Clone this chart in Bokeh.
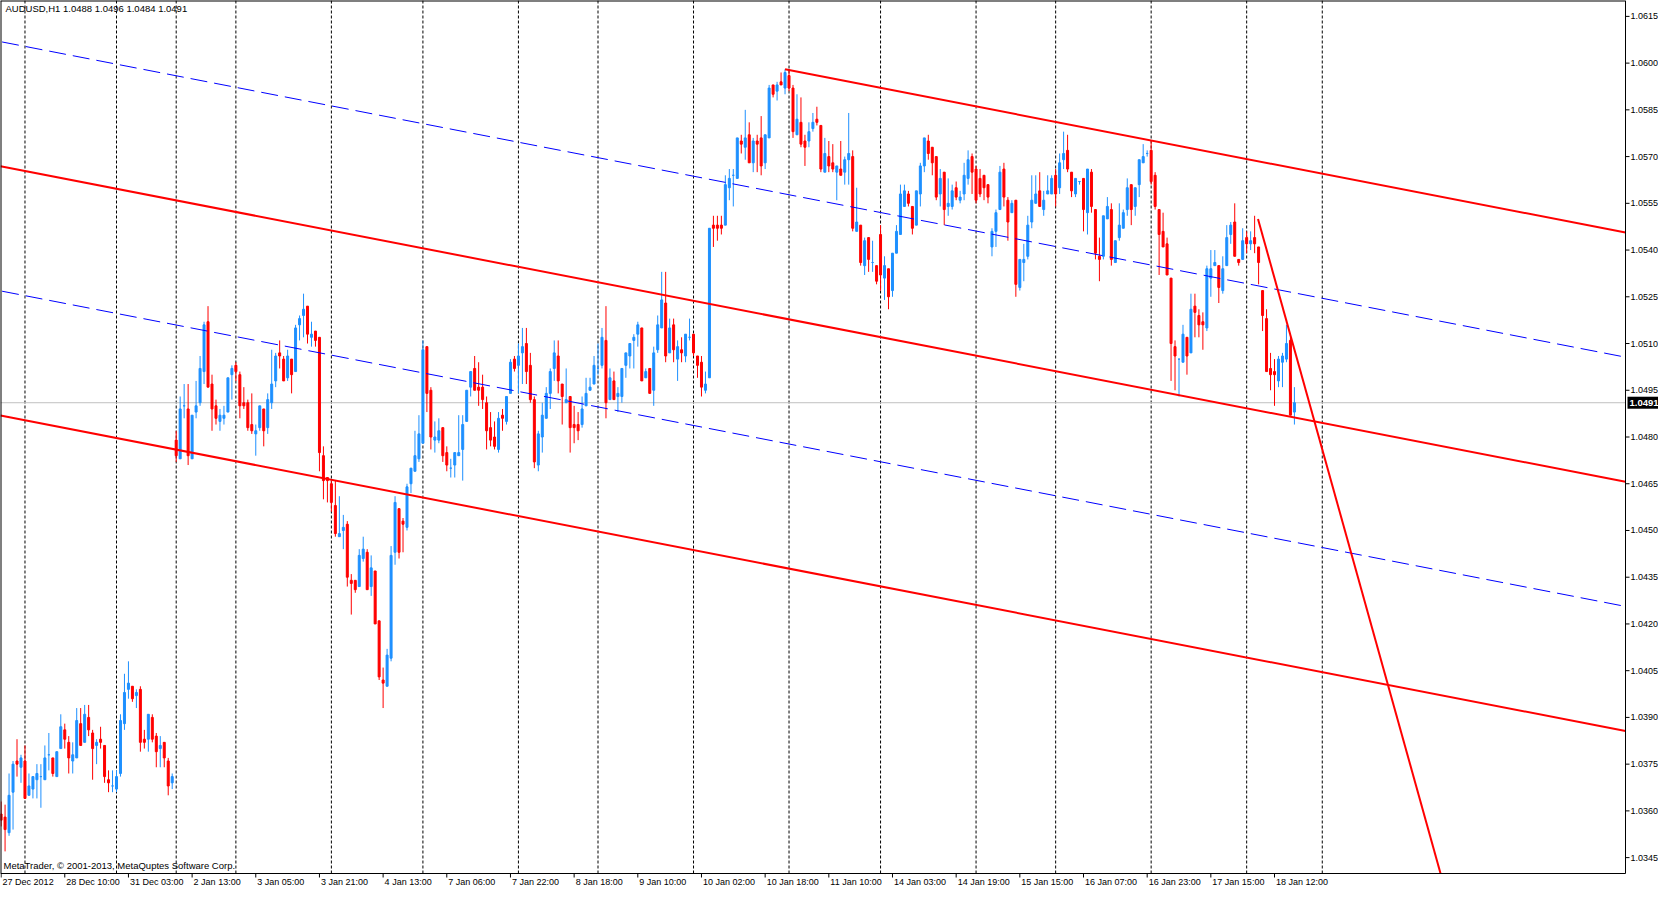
from bokeh.plotting import figure
from bokeh.models import Range1d, Label, ColumnDataSource
from bokeh.core.properties import value
from bokeh.embed import file_html
from bokeh.resources import INLINE

# ---------------- data (AUDUSD H1) ----------------
opens = [
    1.0359, 1.0358, 1.0353, 1.0366, 1.0376, 1.0374, 1.0376, 1.0365, 1.0367, 1.0370,
    1.0371, 1.0370, 1.0378, 1.0377, 1.0371, 1.0380, 1.0386, 1.0382, 1.0376, 1.0377,
    1.0388, 1.0382, 1.0390, 1.0385, 1.0381, 1.0383, 1.0381, 1.0370, 1.0368, 1.0367,
    1.0372, 1.0388, 1.0399, 1.0400, 1.0397, 1.0399, 1.0383, 1.0383, 1.0390, 1.0384,
    1.0380, 1.0382, 1.0376, 1.0369, 1.0479, 1.0473, 1.0490, 1.0489, 1.0473, 1.0488,
    1.0491, 1.0501, 1.0517, 1.0497, 1.0490, 1.0485, 1.0486, 1.0488, 1.0500, 1.0503,
    1.0500, 1.0491, 1.0491, 1.0484, 1.0481, 1.0483, 1.0489, 1.0483, 1.0491, 1.0498,
    1.0507, 1.0505, 1.0499, 1.0505, 1.0501, 1.0516, 1.0519, 1.0522, 1.0512, 1.0514,
    1.0512, 1.0474, 1.0467, 1.0465, 1.0458, 1.0448, 1.0450, 1.0452, 1.0434, 1.0434,
    1.0432, 1.0441, 1.0443, 1.0432, 1.0437, 1.0421, 1.0402, 1.0400, 1.0409, 1.0443,
    1.0457, 1.0453, 1.0451, 1.0465, 1.0469, 1.0473, 1.0478, 1.0509, 1.0495, 1.0479,
    1.0479, 1.0483, 1.0475, 1.0470, 1.0471, 1.0474, 1.0476, 1.0485, 1.0496, 1.0502,
    1.0496, 1.0496, 1.0491, 1.0483, 1.0480, 1.0476, 1.0487, 1.0485, 1.0494, 1.0505,
    1.0503, 1.0507, 1.0510, 1.0503, 1.0492, 1.0471, 1.0480, 1.0486, 1.0494, 1.0502,
    1.0506, 1.0497, 1.0491, 1.0493, 1.0484, 1.0484, 1.0484, 1.0490, 1.0495, 1.0497,
    1.0502, 1.0503, 1.0511, 1.0492, 1.0498, 1.0493, 1.0493, 1.0503, 1.0506, 1.0511,
    1.0513, 1.0515, 1.0499, 1.0502, 1.0495, 1.0508, 1.0515, 1.0523, 1.0507, 1.0516,
    1.0505, 1.0508, 1.0506, 1.0512, 1.0513, 1.0506, 1.0504, 1.0495, 1.0499, 1.0548,
    1.0548, 1.0548, 1.0548, 1.0560, 1.0564, 1.0563, 1.0575, 1.0573, 1.0577, 1.0568,
    1.0575, 1.0576, 1.0568, 1.0576, 1.0593, 1.0591, 1.0594, 1.0592, 1.0596, 1.0592,
    1.0577, 1.0581, 1.0575, 1.0575, 1.0579, 1.0582, 1.0580, 1.0565, 1.0570, 1.0568,
    1.0565, 1.0566, 1.0565, 1.0569, 1.0570, 1.0546, 1.0548, 1.0535, 1.0544, 1.0536,
    1.0535, 1.0545, 1.0531, 1.0534, 1.0527, 1.0539, 1.0545, 1.0554, 1.0558, 1.0554,
    1.0548, 1.0558, 1.0567, 1.0575, 1.0573, 1.0570, 1.0558, 1.0565, 1.0554, 1.0554,
    1.0560, 1.0556, 1.0558, 1.0563, 1.0570, 1.0566, 1.0563, 1.0564, 1.0561, 1.0541,
    1.0546, 1.0553, 1.0566, 1.0556, 1.0552, 1.0556, 1.0528, 1.0536, 1.0538, 1.0549,
    1.0555, 1.0559, 1.0553, 1.0558, 1.0558, 1.0564, 1.0560, 1.0569, 1.0572, 1.0565,
    1.0558, 1.0562, 1.0563, 1.0552, 1.0565, 1.0553, 1.0538, 1.0538, 1.0550, 1.0553,
    1.0536, 1.0544, 1.0547, 1.0553, 1.0561, 1.0554, 1.0561, 1.0568, 1.0571, 1.0572,
    1.0564, 1.0553, 1.0546, 1.0542, 1.0531, 1.0509, 1.0505, 1.0504, 1.0512, 1.0507,
    1.0522, 1.0519, 1.0517, 1.0515, 1.0531, 1.0535, 1.0535, 1.0527, 1.0535, 1.0545,
    1.0549, 1.0537, 1.0537, 1.0544, 1.0542, 1.0544, 1.0541, 1.0527, 1.0518, 1.0502,
    1.0501, 1.0498, 1.0504, 1.0505, 1.0511, 1.0488,
]
highs = [
    1.0363, 1.0362, 1.0372, 1.0376, 1.0383, 1.0378, 1.0381, 1.0372, 1.0371, 1.0375,
    1.0375, 1.0381, 1.0385, 1.0377, 1.0379, 1.0391, 1.0388, 1.0384, 1.0382, 1.0393,
    1.0393, 1.0394, 1.0394, 1.0386, 1.0383, 1.0387, 1.0381, 1.0373, 1.0373, 1.0373,
    1.0391, 1.0404, 1.0408, 1.0400, 1.0399, 1.0400, 1.0386, 1.0391, 1.0391, 1.0385,
    1.0384, 1.0382, 1.0377, 1.0372, 1.0482, 1.0493, 1.0497, 1.0497, 1.0487, 1.0498,
    1.0506, 1.0517, 1.0522, 1.0500, 1.0492, 1.0489, 1.0490, 1.0499, 1.0503, 1.0504,
    1.0501, 1.0496, 1.0492, 1.0494, 1.0484, 1.0490, 1.0489, 1.0494, 1.0508, 1.0507,
    1.0511, 1.0506, 1.0508, 1.0505, 1.0516, 1.0519, 1.0526, 1.0522, 1.0517, 1.0514,
    1.0512, 1.0477, 1.0467, 1.0466, 1.0466, 1.0461, 1.0455, 1.0453, 1.0436, 1.0434,
    1.0444, 1.0448, 1.0444, 1.0442, 1.0437, 1.0421, 1.0406, 1.0412, 1.0445, 1.0461,
    1.0457, 1.0454, 1.0465, 1.0470, 1.0482, 1.0487, 1.0511, 1.0509, 1.0496, 1.0485,
    1.0486, 1.0483, 1.0477, 1.0473, 1.0475, 1.0487, 1.0487, 1.0495, 1.0501, 1.0506,
    1.0504, 1.0500, 1.0493, 1.0488, 1.0485, 1.0488, 1.0489, 1.0493, 1.0505, 1.0506,
    1.0510, 1.0515, 1.0515, 1.0507, 1.0493, 1.0482, 1.0491, 1.0496, 1.0502, 1.0511,
    1.0511, 1.0497, 1.0502, 1.0493, 1.0490, 1.0488, 1.0493, 1.0499, 1.0499, 1.0506,
    1.0510, 1.0515, 1.0522, 1.0502, 1.0501, 1.0496, 1.0502, 1.0507, 1.0510, 1.0513,
    1.0517, 1.0515, 1.0502, 1.0502, 1.0509, 1.0519, 1.0533, 1.0533, 1.0518, 1.0518,
    1.0511, 1.0512, 1.0513, 1.0518, 1.0513, 1.0506, 1.0506, 1.0501, 1.0547, 1.0551,
    1.0551, 1.0551, 1.0564, 1.0566, 1.0566, 1.0576, 1.0577, 1.0585, 1.0581, 1.0576,
    1.0577, 1.0583, 1.0577, 1.0593, 1.0593, 1.0594, 1.0597, 1.0598, 1.0598, 1.0593,
    1.0590, 1.0589, 1.0577, 1.0581, 1.0584, 1.0586, 1.0580, 1.0576, 1.0575, 1.0574,
    1.0567, 1.0575, 1.0570, 1.0584, 1.0572, 1.0560, 1.0548, 1.0544, 1.0544, 1.0543,
    1.0535, 1.0548, 1.0538, 1.0534, 1.0539, 1.0548, 1.0561, 1.0561, 1.0559, 1.0554,
    1.0559, 1.0568, 1.0576, 1.0577, 1.0573, 1.0570, 1.0566, 1.0565, 1.0563, 1.0561,
    1.0562, 1.0559, 1.0568, 1.0572, 1.0571, 1.0567, 1.0566, 1.0564, 1.0561, 1.0547,
    1.0553, 1.0567, 1.0568, 1.0557, 1.0556, 1.0556, 1.0537, 1.0542, 1.0551, 1.0564,
    1.0564, 1.0565, 1.0559, 1.0564, 1.0564, 1.0566, 1.0571, 1.0578, 1.0577, 1.0565,
    1.0563, 1.0562, 1.0563, 1.0566, 1.0566, 1.0553, 1.0544, 1.0551, 1.0557, 1.0555,
    1.0543, 1.0555, 1.0553, 1.0563, 1.0561, 1.0560, 1.0569, 1.0574, 1.0572, 1.0575,
    1.0565, 1.0553, 1.0552, 1.0544, 1.0531, 1.0511, 1.0505, 1.0516, 1.0512, 1.0526,
    1.0526, 1.0521, 1.0520, 1.0535, 1.0540, 1.0540, 1.0535, 1.0538, 1.0548, 1.0549,
    1.0555, 1.0537, 1.0547, 1.0546, 1.0546, 1.0551, 1.0541, 1.0527, 1.0521, 1.0507,
    1.0505, 1.0506, 1.0507, 1.0516, 1.0512, 1.0496,
]
lows = [
    1.0355, 1.0347, 1.0352, 1.0354, 1.0371, 1.0369, 1.0364, 1.0365, 1.0364, 1.0364,
    1.0361, 1.0370, 1.0373, 1.0371, 1.0371, 1.0380, 1.0380, 1.0372, 1.0372, 1.0377,
    1.0381, 1.0382, 1.0384, 1.0370, 1.0375, 1.0380, 1.0369, 1.0366, 1.0366, 1.0366,
    1.0371, 1.0386, 1.0396, 1.0395, 1.0393, 1.0379, 1.0380, 1.0379, 1.0382, 1.0374,
    1.0374, 1.0374, 1.0365, 1.0367, 1.0472, 1.0473, 1.0486, 1.0471, 1.0473, 1.0486,
    1.0490, 1.0497, 1.0496, 1.0482, 1.0484, 1.0482, 1.0484, 1.0488, 1.0492, 1.0498,
    1.0486, 1.0489, 1.0482, 1.0481, 1.0474, 1.0482, 1.0477, 1.0481, 1.0489, 1.0496,
    1.0502, 1.0498, 1.0498, 1.0494, 1.0501, 1.0511, 1.0512, 1.0510, 1.0509, 1.0509,
    1.0469, 1.0460, 1.0459, 1.0456, 1.0448, 1.0448, 1.0444, 1.0432, 1.0423, 1.0430,
    1.0432, 1.0440, 1.0431, 1.0429, 1.0420, 1.0402, 1.0393, 1.0400, 1.0408, 1.0439,
    1.0441, 1.0443, 1.0450, 1.0462, 1.0469, 1.0472, 1.0478, 1.0488, 1.0476, 1.0475,
    1.0478, 1.0472, 1.0469, 1.0467, 1.0467, 1.0474, 1.0466, 1.0485, 1.0493, 1.0495,
    1.0490, 1.0489, 1.0476, 1.0477, 1.0476, 1.0475, 1.0482, 1.0484, 1.0494, 1.0501,
    1.0494, 1.0497, 1.0497, 1.0491, 1.0470, 1.0469, 1.0475, 1.0486, 1.0489, 1.0498,
    1.0494, 1.0484, 1.0491, 1.0475, 1.0478, 1.0479, 1.0483, 1.0490, 1.0495, 1.0497,
    1.0500, 1.0502, 1.0486, 1.0492, 1.0492, 1.0488, 1.0491, 1.0499, 1.0502, 1.0502,
    1.0509, 1.0498, 1.0499, 1.0494, 1.0490, 1.0507, 1.0515, 1.0504, 1.0507, 1.0504,
    1.0498, 1.0504, 1.0504, 1.0511, 1.0506, 1.0499, 1.0493, 1.0494, 1.0499, 1.0541,
    1.0543, 1.0545, 1.0548, 1.0556, 1.0554, 1.0563, 1.0571, 1.0569, 1.0568, 1.0565,
    1.0565, 1.0564, 1.0566, 1.0576, 1.0589, 1.0588, 1.0593, 1.0590, 1.0591, 1.0576,
    1.0577, 1.0573, 1.0567, 1.0573, 1.0578, 1.0580, 1.0565, 1.0565, 1.0565, 1.0565,
    1.0556, 1.0564, 1.0561, 1.0561, 1.0546, 1.0546, 1.0535, 1.0532, 1.0533, 1.0533,
    1.0529, 1.0527, 1.0524, 1.0521, 1.0525, 1.0539, 1.0545, 1.0554, 1.0554, 1.0545,
    1.0548, 1.0554, 1.0565, 1.0569, 1.0564, 1.0556, 1.0554, 1.0548, 1.0551, 1.0553,
    1.0556, 1.0555, 1.0556, 1.0561, 1.0558, 1.0555, 1.0557, 1.0556, 1.0555, 1.0538,
    1.0541, 1.0553, 1.0554, 1.0543, 1.0552, 1.0525, 1.0527, 1.0530, 1.0537, 1.0547,
    1.0555, 1.0554, 1.0551, 1.0558, 1.0558, 1.0554, 1.0558, 1.0566, 1.0565, 1.0557,
    1.0557, 1.0561, 1.0546, 1.0545, 1.0552, 1.0537, 1.0530, 1.0537, 1.0550, 1.0535,
    1.0536, 1.0543, 1.0547, 1.0551, 1.0548, 1.0551, 1.0557, 1.0568, 1.0570, 1.0561,
    1.0553, 1.0532, 1.0541, 1.0532, 1.0498, 1.0495, 1.0493, 1.0504, 1.0500, 1.0507,
    1.0512, 1.0512, 1.0508, 1.0514, 1.0525, 1.0535, 1.0523, 1.0526, 1.0535, 1.0542,
    1.0538, 1.0535, 1.0537, 1.0539, 1.0540, 1.0539, 1.0529, 1.0514, 1.0501, 1.0495,
    1.0490, 1.0496, 1.0496, 1.0504, 1.0487, 1.0484,
]
closes = [
    1.0357, 1.0354, 1.0365, 1.0375, 1.0375, 1.0377, 1.0364, 1.0368, 1.0371, 1.0372,
    1.0371, 1.0377, 1.0378, 1.0372, 1.0379, 1.0387, 1.0383, 1.0377, 1.0378, 1.0389,
    1.0381, 1.0391, 1.0386, 1.0380, 1.0382, 1.0382, 1.0371, 1.0369, 1.0368, 1.0371,
    1.0389, 1.0398, 1.0401, 1.0396, 1.0398, 1.0382, 1.0382, 1.0391, 1.0383, 1.0379,
    1.0381, 1.0377, 1.0368, 1.0371, 1.0474, 1.0489, 1.0490, 1.0474, 1.0487, 1.0490,
    1.0502, 1.0516, 1.0496, 1.0489, 1.0486, 1.0487, 1.0487, 1.0499, 1.0502, 1.0501,
    1.0490, 1.0490, 1.0483, 1.0482, 1.0482, 1.0490, 1.0482, 1.0492, 1.0497, 1.0506,
    1.0506, 1.0498, 1.0506, 1.0500, 1.0515, 1.0518, 1.0521, 1.0513, 1.0513, 1.0511,
    1.0475, 1.0466, 1.0466, 1.0459, 1.0449, 1.0449, 1.0451, 1.0435, 1.0433, 1.0431,
    1.0442, 1.0444, 1.0431, 1.0438, 1.0420, 1.0403, 1.0401, 1.0410, 1.0442, 1.0459,
    1.0443, 1.0452, 1.0464, 1.0470, 1.0474, 1.0481, 1.0508, 1.0494, 1.0480, 1.0480,
    1.0482, 1.0474, 1.0471, 1.0470, 1.0475, 1.0475, 1.0484, 1.0495, 1.0501, 1.0495,
    1.0495, 1.0492, 1.0482, 1.0479, 1.0477, 1.0486, 1.0486, 1.0493, 1.0504, 1.0502,
    1.0506, 1.0509, 1.0501, 1.0492, 1.0472, 1.0481, 1.0487, 1.0494, 1.0501, 1.0507,
    1.0498, 1.0493, 1.0492, 1.0483, 1.0483, 1.0482, 1.0489, 1.0494, 1.0496, 1.0503,
    1.0502, 1.0512, 1.0491, 1.0499, 1.0492, 1.0494, 1.0502, 1.0507, 1.0510, 1.0512,
    1.0516, 1.0498, 1.0501, 1.0494, 1.0507, 1.0516, 1.0524, 1.0506, 1.0515, 1.0508,
    1.0509, 1.0507, 1.0513, 1.0512, 1.0507, 1.0503, 1.0496, 1.0497, 1.0547, 1.0547,
    1.0547, 1.0547, 1.0561, 1.0563, 1.0564, 1.0576, 1.0574, 1.0576, 1.0568, 1.0575,
    1.0574, 1.0567, 1.0577, 1.0592, 1.0590, 1.0593, 1.0593, 1.0597, 1.0592, 1.0578,
    1.0582, 1.0574, 1.0573, 1.0578, 1.0581, 1.0581, 1.0566, 1.0571, 1.0567, 1.0566,
    1.0567, 1.0564, 1.0569, 1.0571, 1.0547, 1.0549, 1.0536, 1.0543, 1.0537, 1.0536,
    1.0530, 1.0532, 1.0535, 1.0525, 1.0539, 1.0546, 1.0558, 1.0559, 1.0555, 1.0547,
    1.0559, 1.0567, 1.0576, 1.0571, 1.0568, 1.0557, 1.0563, 1.0553, 1.0555, 1.0559,
    1.0557, 1.0557, 1.0564, 1.0569, 1.0565, 1.0556, 1.0558, 1.0560, 1.0557, 1.0546,
    1.0552, 1.0565, 1.0557, 1.0549, 1.0555, 1.0529, 1.0537, 1.0537, 1.0548, 1.0556,
    1.0558, 1.0554, 1.0556, 1.0559, 1.0563, 1.0558, 1.0568, 1.0571, 1.0566, 1.0559,
    1.0563, 1.0562, 1.0553, 1.0566, 1.0554, 1.0539, 1.0537, 1.0551, 1.0554, 1.0537,
    1.0543, 1.0548, 1.0552, 1.0560, 1.0553, 1.0560, 1.0569, 1.0570, 1.0571, 1.0562,
    1.0554, 1.0545, 1.0541, 1.0532, 1.0510, 1.0506, 1.0505, 1.0513, 1.0506, 1.0521,
    1.0520, 1.0516, 1.0516, 1.0534, 1.0534, 1.0536, 1.0528, 1.0534, 1.0544, 1.0548,
    1.0538, 1.0536, 1.0543, 1.0542, 1.0543, 1.0542, 1.0536, 1.0519, 1.0501, 1.0500,
    1.0500, 1.0505, 1.0506, 1.0510, 1.0487, 1.0491,
]

x_tick_bars = [0, 16, 32, 48, 64, 80, 96, 112, 128, 144, 160,
               176, 192, 208, 224, 240, 256, 272, 288, 304, 320]
x_tick_labels = ["27 Dec 2012", "28 Dec 10:00", "31 Dec 03:00", "2 Jan 13:00",
                 "3 Jan 05:00", "3 Jan 21:00", "4 Jan 13:00", "7 Jan 06:00",
                 "7 Jan 22:00", "8 Jan 18:00", "9 Jan 10:00", "10 Jan 02:00",
                 "10 Jan 18:00", "11 Jan 10:00", "14 Jan 03:00", "14 Jan 19:00",
                 "15 Jan 15:00", "16 Jan 07:00", "16 Jan 23:00", "17 Jan 15:00",
                 "18 Jan 12:00"]
price_ticks = [1.0345, 1.0360, 1.0375, 1.0390, 1.0405, 1.0420, 1.0435, 1.0450,
               1.0465, 1.0480, 1.0495, 1.0510, 1.0525, 1.0540, 1.0555, 1.0570,
               1.0585, 1.0600, 1.0615]
separator_bars = [6, 29, 44, 59, 83, 106, 130, 150, 174, 198, 221, 245, 265, 289, 313, 332]

# equidistant channel (anchor at bar 197 high), offsets of its lines
channel_anchor = (197, 1.0598)
channel_slope = -0.0000248          # price per bar
red_offsets = [-0.0080, -0.0160]     # full-width solid lines
blue_offsets = [-0.0040, -0.0120]    # dashed middle lines
# steep trend line through two points (bar, price)
steep_bars = [315.85, 361.7]
steep_prices = [1.0550, 1.0340]

bid_price = 1.0491
header_text = "AUDUSD,H1  1.0488 1.0496 1.0484 1.0491"
footer_text = "MetaTrader, \u00a9 2001-2013, MetaQuptes Software Corp."

BLUE = "#1E90FF"
RED = "#FF0000"
FONT = "Liberation Sans"
AXIS_FS = "9px"

# ---------------- layout ----------------
W, H = 1658, 890
CHART_W, CHART_H = 1625, 873         # chart area; price scale at right, time scale below
X0, X1 = -0.15, 408.2                # bars visible in the chart area
Y0, Y1 = 1.03399, 1.06201            # prices visible in the chart area
PPB = CHART_W / (X1 - X0)            # pixels per bar
PPP = (Y1 - Y0) / CHART_H            # price per pixel
XR = X0 + W / PPB
YB = Y1 - H * PPP

p = figure(width=W, height=H, output_backend="svg", toolbar_location=None,
           x_range=Range1d(X0, XR), y_range=Range1d(YB, Y1),
           x_axis_location=None, y_axis_location=None,
           min_border_left=0, min_border_top=0, min_border_right=0, min_border_bottom=0)
p.background_fill_color = "white"
p.border_fill_color = "white"
p.outline_line_color = None
p.xgrid.grid_line_color = None
p.ygrid.grid_line_color = None

# period separators
p.segment(x0=separator_bars, y0=[Y0] * len(separator_bars), x1=separator_bars,
          y1=[Y1] * len(separator_bars), line_color="black", line_width=1,
          line_dash="3 2", level="underlay")

# bid line
p.segment(x0=[X0], y0=[bid_price], x1=[X1], y1=[bid_price], line_color="#C0C0C0",
          line_width=1, level="underlay")

# candles
n = len(opens)
colors = [BLUE if c >= o else RED for o, c in zip(opens, closes)]
src = ColumnDataSource(dict(
    x=list(range(n)), h=highs, l=lows,
    top=[max(o, c) for o, c in zip(opens, closes)],
    bottom=[min(o, c) for o, c in zip(opens, closes)],
    color=colors))
p.segment(x0="x", y0="l", x1="x", y1="h", line_color="color", line_width=1, source=src)
p.vbar(x="x", width=0.5, top="top", bottom="bottom", fill_color="color",
       line_color="color", line_width=1, source=src)

# channel lines
ab, ap = channel_anchor
def chan(bar, off):
    return ap + channel_slope * (bar - ab) + off

p.line([ab, X1], [chan(ab, 0.0), chan(X1, 0.0)], line_color=RED, line_width=2)
for off in red_offsets:
    p.line([X0, X1], [chan(X0, off), chan(X1, off)], line_color=RED, line_width=2)
for off in blue_offsets:
    p.line([X0 + 0.4, X1 - 0.4], [chan(X0 + 0.4, off), chan(X1 - 0.4, off)],
           line_color="#0000FF", line_width=1, line_dash="17 7")

# steep trend line (ray extended downward, stopped at the chart bottom)
sl = (steep_prices[1] - steep_prices[0]) / (steep_bars[1] - steep_bars[0])
end_bar = steep_bars[0] + (Y0 - steep_prices[0]) / sl
p.line([steep_bars[0], end_bar], [steep_prices[0], Y0], line_color=RED, line_width=2)

# chart border
p.line([X0, X1], [Y0, Y0], line_color="black", line_width=1)
p.line([X0, X1], [Y1, Y1], line_color="black", line_width=2)
p.line([X0, X0], [Y0, Y1], line_color="black", line_width=2)
p.line([X1, X1], [Y0, Y1], line_color="black", line_width=1)

# time scale: tick marks below the chart, labels starting just right of each tick
p.segment(x0=x_tick_bars, y0=[Y0] * len(x_tick_bars), x1=x_tick_bars,
          y1=[Y0 - 4 * PPP] * len(x_tick_bars), line_color="black", line_width=1)
p.text(x=x_tick_bars, y=[Y0 - 8.5 * PPP] * len(x_tick_bars), text=x_tick_labels,
       x_offset=1.5, text_font=value(FONT), text_font_size=AXIS_FS, text_color="black",
       text_baseline="middle", text_align="left")

# price scale: ticks and labels
p.segment(x0=[X1] * len(price_ticks), y0=price_ticks,
          x1=[X1 + 4 / PPB] * len(price_ticks), y1=price_ticks,
          line_color="black", line_width=1)
p.text(x=[X1] * len(price_ticks), y=price_ticks, text=["%.4f" % t for t in price_ticks],
       x_offset=5, text_font=value(FONT), text_font_size=AXIS_FS, text_color="black",
       text_baseline="middle", text_align="left")

# current price box on the price scale
box_w = XR - X1 - 2 / PPB
p.rect(x=[X1 + 2 / PPB + box_w / 2], y=[bid_price], width=[box_w], height=[12],
       height_units="screen", fill_color="black", line_color=None)
p.text(x=[X1], y=[bid_price], text=["%.4f" % bid_price], x_offset=4,
       text_font=value(FONT), text_font_size="9.5px", text_font_style="bold",
       text_color="white", text_baseline="middle", text_align="left")

# header / footer
p.add_layout(Label(x=X0, y=Y1, x_offset=5, y_offset=-8, text=header_text,
                   text_font=FONT, text_font_size="9.5px", text_color="black",
                   text_baseline="middle", text_align="left"))
p.add_layout(Label(x=X0, y=Y0, x_offset=3, y_offset=8, text=footer_text,
                   text_font=FONT, text_font_size="9.5px", text_color="black",
                   text_baseline="middle", text_align="left"))

open("out.html", "w").write(file_html(p, INLINE))
